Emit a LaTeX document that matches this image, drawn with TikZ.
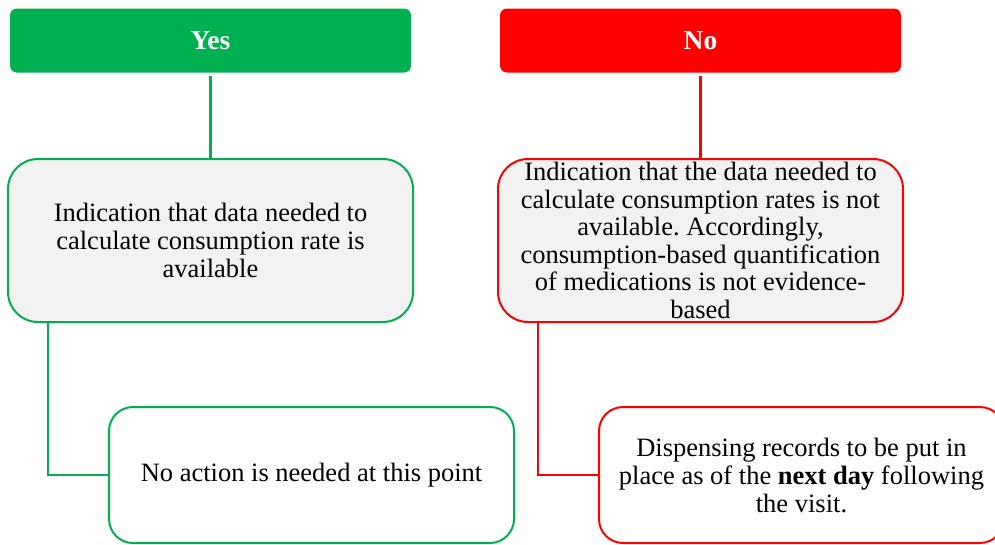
\documentclass[tikz,border=0pt]{standalone}
\usepackage{fontspec}
\setmainfont{Liberation Serif}
\usetikzlibrary{calc}
\definecolor{yesgreen}{HTML}{00B050}
\definecolor{nored}{HTML}{FF0000}
\definecolor{panel}{HTML}{F2F2F2}
\frenchspacing
\begin{document}
\begin{tikzpicture}[x=1pt,y=-1pt,
  head/.style={rounded corners=7pt, minimum width=401pt, minimum height=64pt,
    inner sep=0pt, text=white, font=\fontsize{27.5}{30}\selectfont\bfseries},
  info/.style={rounded corners=30pt, line width=2pt, fill=panel,
    minimum width=405pt, minimum height=163pt, inner sep=0pt, align=center,
    font=\fontsize{26.5}{27.6}\selectfont},
  act/.style={rounded corners=24pt, line width=2pt, fill=white,
    minimum width=405pt, minimum height=136pt, inner sep=0pt, align=center,
    font=\fontsize{26.5}{28}\selectfont},
  link/.style={line width=2.5pt}]
\useasboundingbox (0,0) rectangle (995,544);
\clip (0,0) rectangle (995,544);

% Column headers
\node[head, fill=yesgreen] (yes) at (210.5,40.5) {Yes};
\node[head, fill=nored] (no) at (700.5,40.5) {No};

% Assessment boxes
\node[info, draw=yesgreen] (yesinfo) at (210.5,240.5)
  {Indication that data needed to\\calculate consumption rate is\\available};
\node[info, draw=nored] (noinfo) at (700.5,240.5)
  {Indication that the data needed to\\calculate consumption rates is not\\available. Accordingly,\\consumption-based quantification\\of medications is not evidence-\\based};

% Action boxes
\node[act, draw=yesgreen] (yesact) at (311.5,475)
  {No action is needed at this point};
\node[act, draw=nored] (noact) at (801.5,475)
  {Dispensing records to be put in\\place as of the \textbf{next day} following\\the visit.};

% Connectors
\draw[link, yesgreen, shorten <=3pt] (yes.south) -- (yesinfo.north);
\draw[link, nored, shorten <=3pt] (no.south) -- (noinfo.north);
\coordinate (yesfoot) at ($(yesinfo.south west)+(41,0)$);
\coordinate (nofoot) at ($(noinfo.south west)+(41,0)$);
\draw[link, yesgreen] (yesfoot) |- (yesact.west);
\draw[link, nored] (nofoot) |- (noact.west);
\end{tikzpicture}
\end{document}
